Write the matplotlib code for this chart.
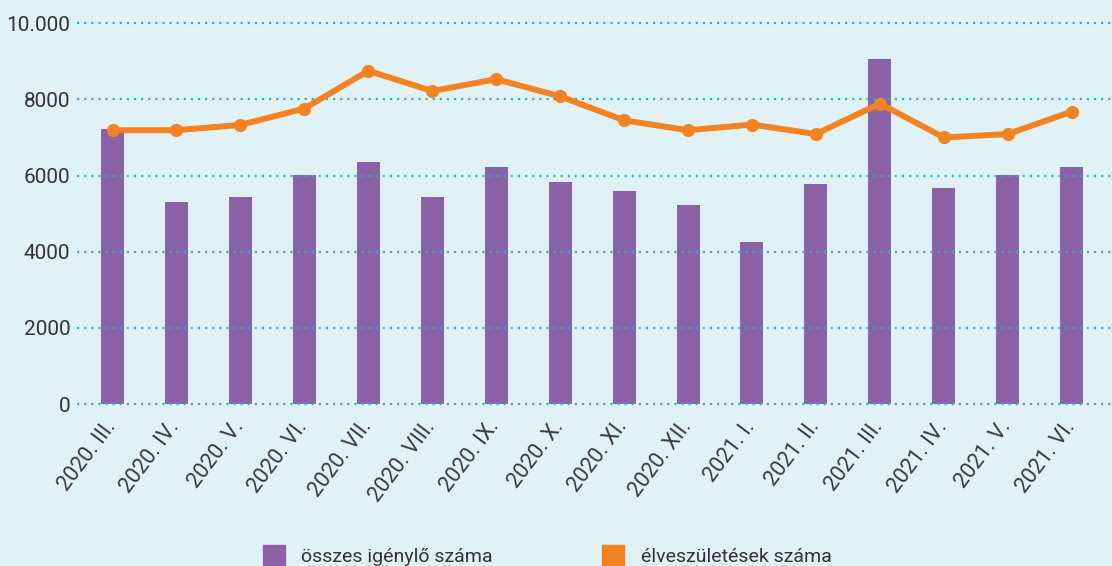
import numpy as np
import matplotlib
matplotlib.use('Agg')
import matplotlib.pyplot as plt
from matplotlib.patches import Patch
from matplotlib.transforms import ScaledTranslation

# honapok
months = ['2020. III.', '2020. IV.', '2020. V.', '2020. VI.', '2020. VII.',
          '2020. VIII.', '2020. IX.', '2020. X.', '2020. XI.', '2020. XII.',
          '2021. I.', '2021. II.', '2021. III.', '2021. IV.', '2021. V.',
          '2021. VI.']
# összes igénylő száma (oszlop)
applicants = [7220, 5300, 5430, 6020, 6350, 5430, 6220, 5830, 5590, 5220,
              4250, 5770, 9060, 5670, 6010, 6220]
# élveszületések száma (vonal)
births = [7190, 7190, 7330, 7760, 8750, 8220, 8530, 8080, 7450, 7190,
          7340, 7090, 7890, 7000, 7090, 7680]

yticks = [0, 2000, 4000, 6000, 8000, 10000]
ylabels = ['0', '2000', '4000', '6000', '8000', '10.000']

bg = '#e1f2f7'
purple = '#8b62a8'
orange = '#f58220'
grid = '#1fb2d5'

plt.rcParams['font.family'] = ['Roboto', 'DejaVu Sans']

fig = plt.figure(figsize=(11.12, 5.66), dpi=100, facecolor=bg)
ax = fig.add_axes([0.069, 0.286, 0.931, 0.673])
ax.set_facecolor(bg)

x = np.arange(len(months))
ax.bar(x, applicants, width=0.36, color=purple, zorder=2)
for t in yticks:
    ax.axhline(t, color=grid, lw=1.6, ls=(0, (1, 2.2)), zorder=3, clip_on=False)
ax.plot(x, births, color=orange, lw=4.3, marker='o', ms=8.5, zorder=4,
        solid_joinstyle='round', clip_on=False)

ax.set_xlim(-0.56, 15.63)
ax.set_ylim(0, 10000)
ax.set_yticks(yticks)
ax.set_yticklabels(ylabels, fontsize=15, color='#333333')
ax.set_xticks(x)
ax.set_xticklabels(months, fontsize=15.5, color='#3a3a3a', rotation=53,
                   ha='right', rotation_mode='anchor')
ax.tick_params(length=0)
ax.tick_params(axis='y', pad=4.5)
ax.tick_params(axis='x', pad=9)
shift = ScaledTranslation(-9 / 100, 0, fig.dpi_scale_trans)
for lab in ax.get_xticklabels():
    lab.set_transform(lab.get_transform() + shift)
for s in ax.spines.values():
    s.set_visible(False)

handles = [Patch(color=purple, label='összes igénylő száma'),
           Patch(color=orange, label='élveszületések száma')]
fig.legend(handles=handles, loc='center', bbox_to_anchor=(0.492, 0.019),
           ncol=2, frameon=False, fontsize=14, handlelength=1.15,
           handleheight=1.3, handletextpad=0.85, columnspacing=5.6,
           borderpad=0, labelcolor='#333333')

fig.savefig('out.png', dpi=100, facecolor=bg)
